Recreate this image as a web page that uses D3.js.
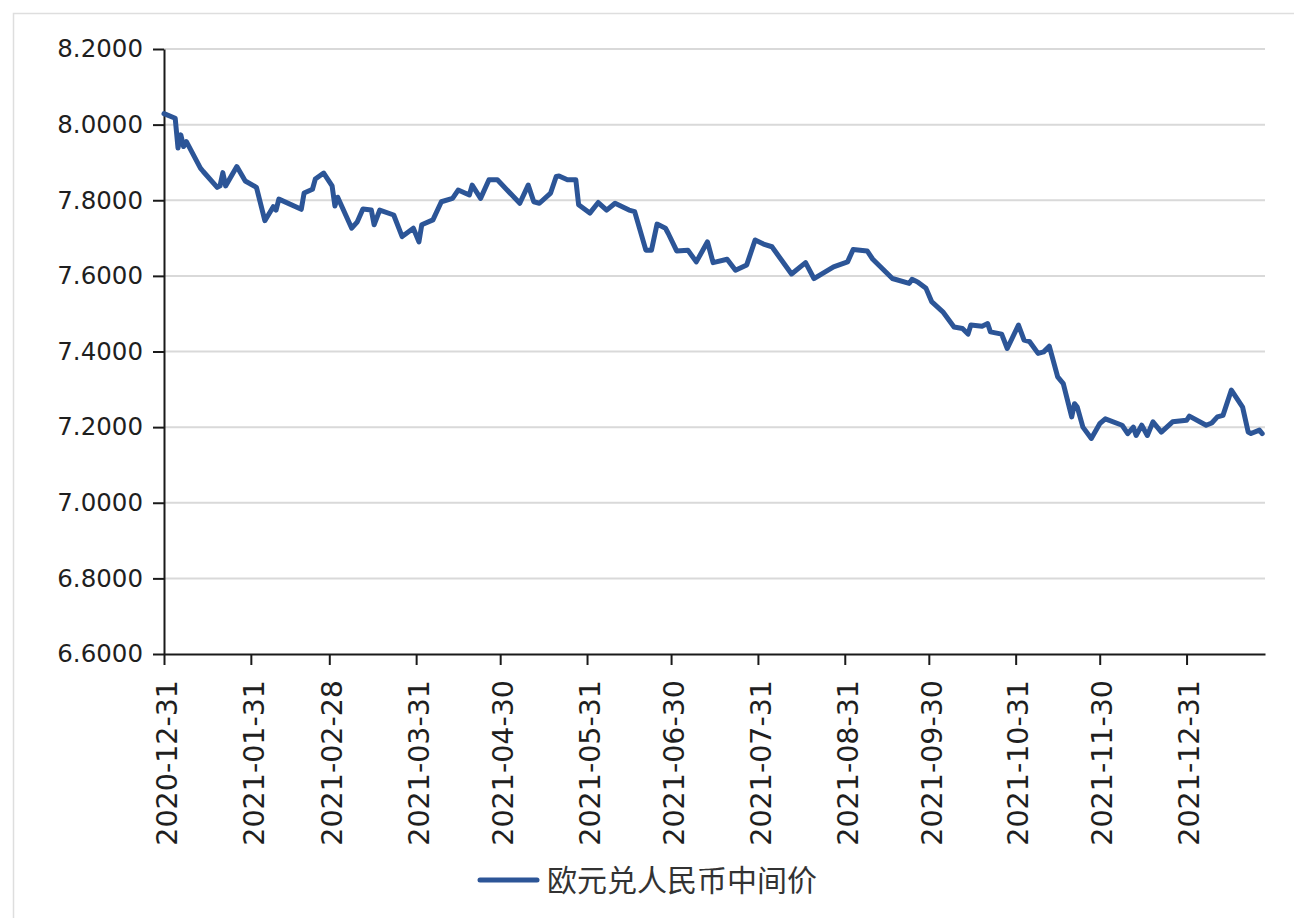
<!DOCTYPE html>
<html>
<head>
<meta charset="utf-8">
<script src="https://cdn.jsdelivr.net/npm/d3@7"></script>
<style>
  body { margin: 0; background: #fff; }
  svg { display: block; }
</style>
</head>
<body>
<svg id="main_svg" width="1294" height="918"></svg>
<script>
// 欧元兑人民币中间价
var seriesName = "欧元兑人民币中间价";

var dates = [
    "2020-12-31","2021-01-04","2021-01-05","2021-01-06","2021-01-07","2021-01-08","2021-01-13","2021-01-14",
    "2021-01-19","2021-01-20","2021-01-21","2021-01-22","2021-01-26","2021-01-29","2021-02-02","2021-02-05",
    "2021-02-08","2021-02-09","2021-02-10","2021-02-18","2021-02-19","2021-02-22","2021-02-23","2021-02-26",
    "2021-03-01","2021-03-02","2021-03-03","2021-03-08","2021-03-10","2021-03-12","2021-03-15","2021-03-16",
    "2021-03-18","2021-03-23","2021-03-26","2021-03-30","2021-04-01","2021-04-02","2021-04-06","2021-04-09",
    "2021-04-13","2021-04-15","2021-04-19","2021-04-20","2021-04-23","2021-04-26","2021-04-29","2021-05-07",
    "2021-05-10","2021-05-12","2021-05-14","2021-05-18","2021-05-20","2021-05-21","2021-05-24","2021-05-27",
    "2021-05-28","2021-06-01","2021-06-04","2021-06-07","2021-06-10","2021-06-15","2021-06-17","2021-06-21",
    "2021-06-23","2021-06-25","2021-06-28","2021-06-29","2021-07-02","2021-07-06","2021-07-09","2021-07-13",
    "2021-07-15","2021-07-20","2021-07-23","2021-07-27","2021-07-30","2021-08-02","2021-08-05","2021-08-12",
    "2021-08-17","2021-08-20","2021-08-27","2021-09-01","2021-09-03","2021-09-08","2021-09-10","2021-09-17",
    "2021-09-23","2021-09-24","2021-09-26","2021-09-29","2021-10-01","2021-10-05","2021-10-09","2021-10-12",
    "2021-10-14","2021-10-15","2021-10-19","2021-10-21","2021-10-22","2021-10-26","2021-10-28","2021-11-01",
    "2021-11-03","2021-11-05","2021-11-08","2021-11-10","2021-11-12","2021-11-15","2021-11-17","2021-11-20",
    "2021-11-21","2021-11-22","2021-11-24","2021-11-27","2021-11-30","2021-12-02","2021-12-08","2021-12-10",
    "2021-12-12","2021-12-13","2021-12-15","2021-12-17","2021-12-19","2021-12-22","2021-12-26","2021-12-31",
    "2022-01-01","2022-01-07","2022-01-09","2022-01-11","2022-01-13","2022-01-16","2022-01-20","2022-01-22",
    "2022-01-23","2022-01-26","2022-01-27"
];

var values = [
    8.029, 8.017, 7.938, 7.973, 7.942, 7.955, 7.885, 7.876,
    7.834, 7.838, 7.873, 7.838, 7.889, 7.851, 7.834, 7.746,
    7.783, 7.774, 7.803, 7.776, 7.819, 7.829, 7.856, 7.872,
    7.838, 7.785, 7.808, 7.726, 7.743, 7.777, 7.774, 7.735,
    7.774, 7.761, 7.704, 7.726, 7.690, 7.735, 7.748, 7.796,
    7.805, 7.827, 7.814, 7.840, 7.805, 7.854, 7.854, 7.792,
    7.840, 7.796, 7.792, 7.819, 7.863, 7.864, 7.854, 7.854,
    7.788, 7.766, 7.794, 7.774, 7.792, 7.774, 7.770, 7.668,
    7.668, 7.737, 7.726, 7.712, 7.666, 7.668, 7.637, 7.690,
    7.635, 7.644, 7.615, 7.629, 7.695, 7.684, 7.677, 7.605,
    7.635, 7.593, 7.624, 7.637, 7.670, 7.666, 7.644, 7.593,
    7.580, 7.591, 7.584, 7.567, 7.532, 7.505, 7.465, 7.461,
    7.446, 7.470, 7.467, 7.474, 7.452, 7.446, 7.408, 7.470,
    7.430, 7.426, 7.395, 7.399, 7.414, 7.333, 7.315, 7.227,
    7.262, 7.253, 7.200, 7.170, 7.209, 7.222, 7.205, 7.183,
    7.200, 7.178, 7.205, 7.178, 7.214, 7.187, 7.214, 7.218,
    7.229, 7.205, 7.211, 7.227, 7.231, 7.298, 7.253, 7.187,
    7.183, 7.192, 7.183
];

var xTickLabels = [
    "2020-12-31","2021-01-31","2021-02-28","2021-03-31","2021-04-30","2021-05-31","2021-06-30",
    "2021-07-31","2021-08-31","2021-09-30","2021-10-31","2021-11-30","2021-12-31"
];
var yTicks = [6.6, 6.8, 7.0, 7.2, 7.4, 7.6, 7.8, 8.0, 8.2];
var xStart = "2020-12-31", xEnd = "2022-01-28";

var parseDate = d3.timeParse("%Y-%m-%d");
var data = dates.map(function(d, i) {
    return { date: parseDate(d), value: values[i] };
});

var svg = d3.select("#main_svg");
var lineColor = "#2c5597";

// 外框 (上边和左边的浅灰线)
svg.append("path")
    .attr("d", "M13.5,918 L13.5,13.5 L1294,13.5")
    .attr("fill", "none")
    .attr("stroke", "#dedede")
    .attr("stroke-width", 1.5);

// 注意: 不能用 top 作变量名 (window.top)
var plotLeft = 164, plotRight = 1265, plotTop = 49, plotBottom = 654;

var x = d3.scaleTime()
    .domain([parseDate(xStart), parseDate(xEnd)])
    .range([plotLeft, plotRight]);

var y = d3.scaleLinear()
    .domain([6.6, 8.2])
    .range([plotBottom, plotTop]);

// 网格线
svg.append("g")
    .selectAll("line")
    .data(yTicks.slice(1))
    .enter()
    .append("line")
    .attr("x1", plotLeft)
    .attr("x2", plotRight)
    .attr("y1", function(d) { return y(d); })
    .attr("y2", function(d) { return y(d); })
    .attr("stroke", "#d9d9d9")
    .attr("stroke-width", 2);

// y轴
var yAxis = svg.append("g")
    .attr("transform", "translate(" + plotLeft + ",0)")
    .call(d3.axisLeft(y).tickValues(yTicks).tickFormat(d3.format(".4f")).tickSize(11).tickPadding(10).tickSizeOuter(0));
yAxis.select(".domain").attr("stroke", "#1a1a1a").attr("stroke-width", 2);
yAxis.selectAll(".tick line").attr("stroke", "#1a1a1a").attr("stroke-width", 2);
yAxis.selectAll("text")
    .attr("fill", "#1f1f1f")
    .style("font-family", "'DejaVu Sans', Verdana, sans-serif")
    .style("font-size", "24.5px");

// x轴
var xAxis = svg.append("g")
    .attr("transform", "translate(0," + plotBottom + ")")
    .call(d3.axisBottom(x)
        .tickValues(xTickLabels.map(parseDate))
        .tickFormat(d3.timeFormat("%Y-%m-%d"))
        .tickSize(11)
        .tickSizeOuter(0));
xAxis.select(".domain").attr("stroke", "#1a1a1a").attr("stroke-width", 2);
xAxis.selectAll(".tick line").attr("stroke", "#1a1a1a").attr("stroke-width", 2);
xAxis.selectAll("text")
    .attr("fill", "#1f1f1f")
    .style("font-family", "'DejaVu Sans', Verdana, sans-serif")
    .style("font-size", "28.5px")
    .style("text-anchor", "end")
    .attr("transform", "rotate(-90)")
    .attr("x", -26)
    .attr("y", 2)
    .attr("dy", "0.36em");

// 折线
var line = d3.line()
    .x(function(d) { return x(d.date); })
    .y(function(d) { return y(d.value); });

svg.append("path")
    .datum(data)
    .attr("d", line)
    .attr("fill", "none")
    .attr("stroke", lineColor)
    .attr("stroke-width", 5)
    .attr("stroke-linejoin", "round")
    .attr("stroke-linecap", "round");

// 图例
var legend = svg.append("g").attr("transform", "translate(480,880)");
legend.append("line")
    .attr("x1", 0)
    .attr("x2", 57)
    .attr("stroke", lineColor)
    .attr("stroke-width", 5)
    .attr("stroke-linecap", "round");
legend.append("text")
    .attr("x", 67)
    .attr("y", 0)
    .attr("dy", "0.36em")
    .attr("fill", "#333")
    .style("font-family", "'Noto Sans CJK SC', sans-serif")
    .style("font-size", "30px")
    .text(seriesName);
</script>
</body>
</html>
